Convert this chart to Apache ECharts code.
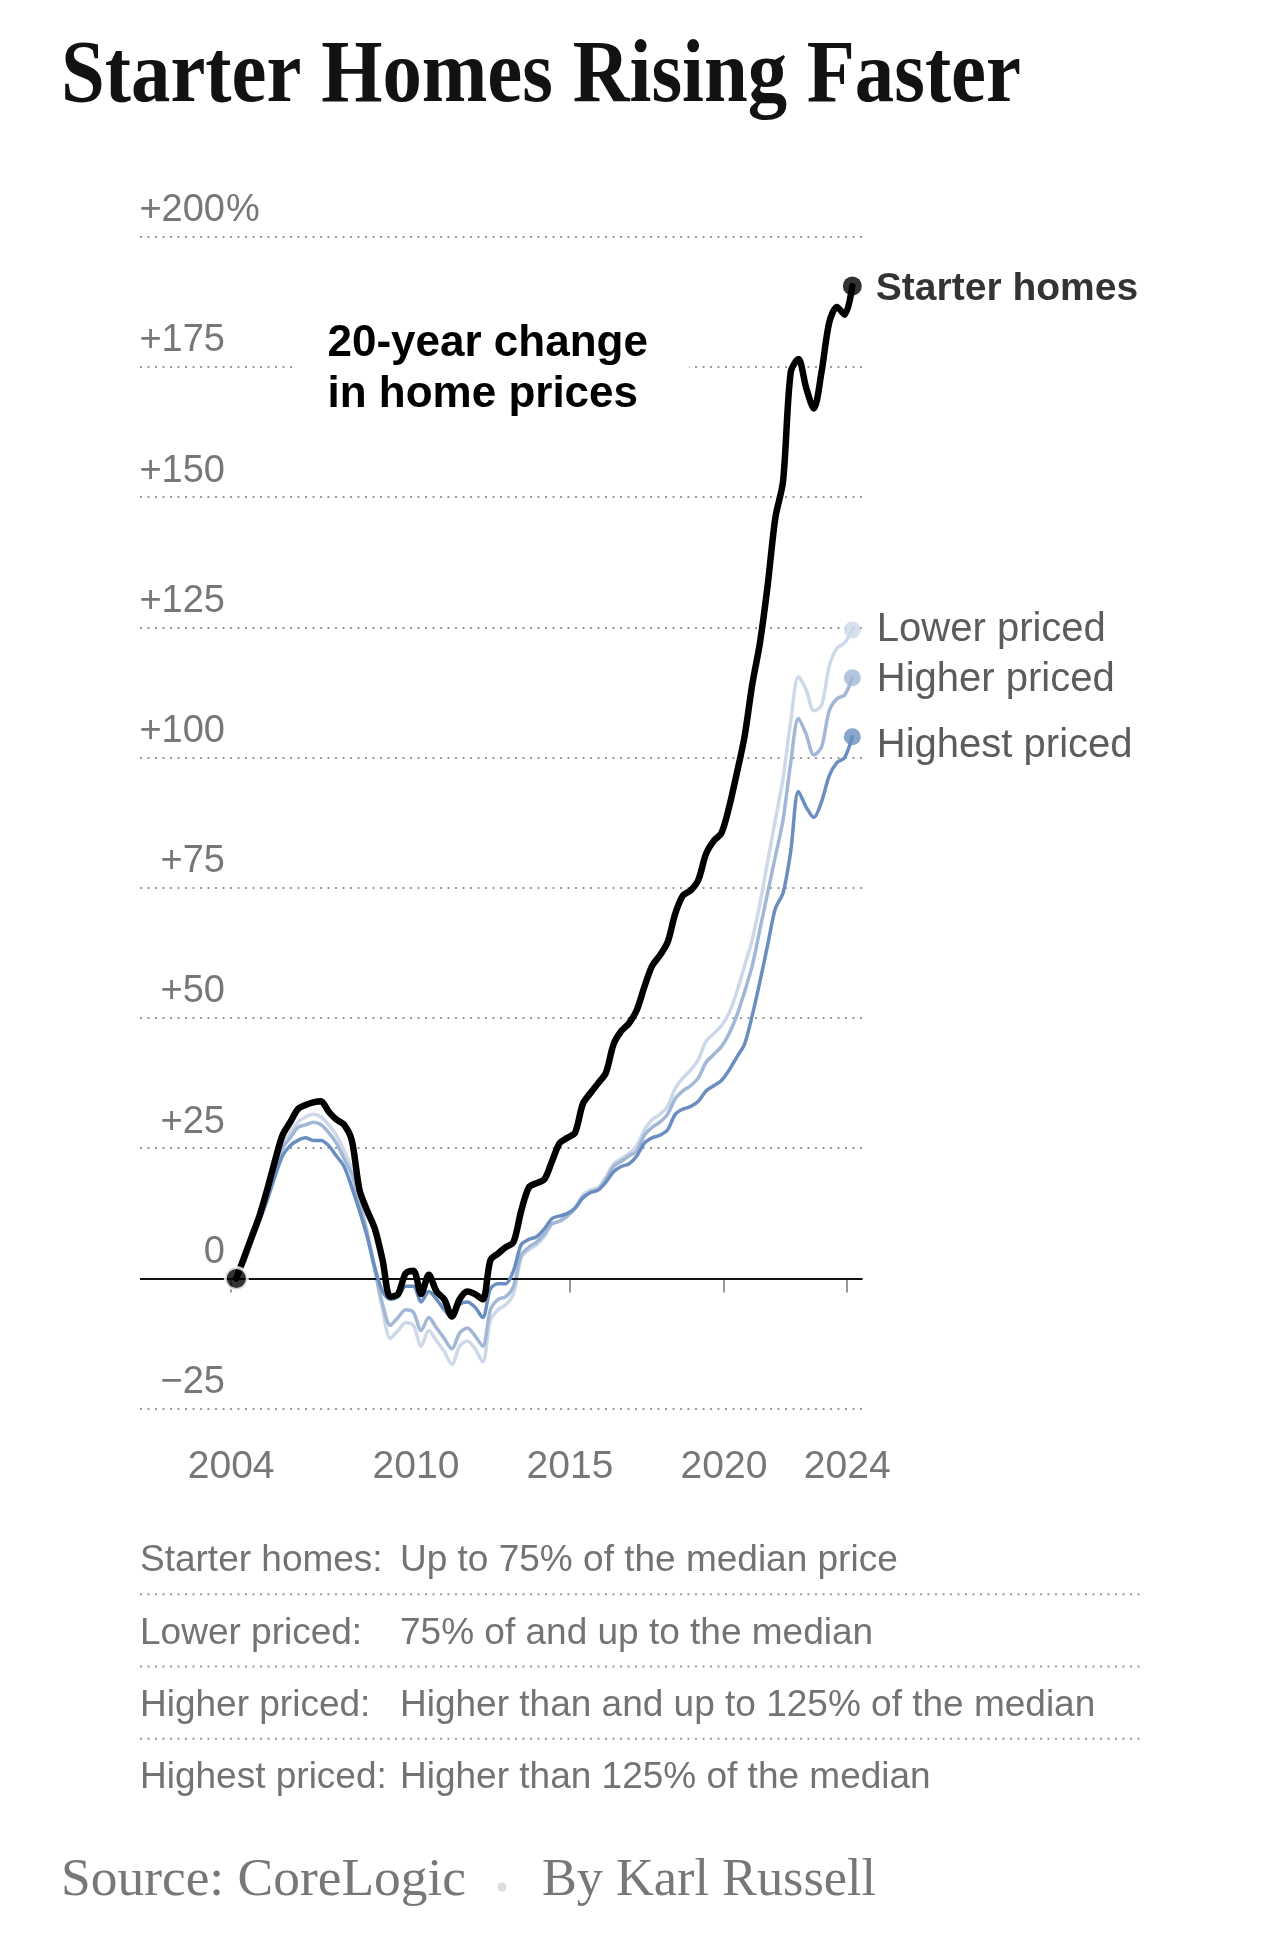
<!DOCTYPE html>
<html><head><meta charset="utf-8">
<script src="https://cdn.jsdelivr.net/npm/echarts@6/dist/echarts.min.js"></script>
<style>html,body{margin:0;padding:0;background:#fff}#c{width:1284px;height:1948px}</style>
</head><body><div id="c"></div>
<script>
// ---------- DATA (quarterly, % change since early 2004) ----------
const firstQuarter = 2004 + 2 / 12;   // first observation (early 2004)
const quarterStep = 0.25;
const starterHomes = [0,4,8,12,17,22.5,27.5,30,32.5,33.3,33.8,34,32,30.5,29.5,26.5,17,13,9.5,3.5,
  -3.5,-3,1,1.5,-3,0.7,-2.5,-4,-7.3,-4,-2.5,-3,-4,3.5,4.8,6,7,13,17.5,18.3,
  19,22.5,26,27,28,33.5,35.6,37.5,39.5,45,47.5,49,51.5,56,60,62,64.5,70,73.5,74.5,
  76.5,81.5,84,85.5,90.5,97,104,114,122,133,146,153,174,176.5,171,167,174,183.5,186.5,185,190.5];
const lowerPriced = [0,3.5,7.5,11.5,16,21,25.5,28,30,31,31.5,31,29.5,27.5,24.5,21,15,9,2,-6,
  -11.5,-10,-8.5,-9,-13,-10,-12,-14,-16.5,-13,-12,-13.5,-16,-8,-6,-5,-3,4,5.5,6.5,
  8,10.5,11,12,13.5,16,17,17.5,19.5,22,23,24,25.5,28.5,30.5,31.5,33,36.5,38.5,40,
  42,45.5,47,48.5,51,55,60,65,72,80,88,96,107,115.5,113,109,110,117.5,121,122,124.5];
const higherPriced = [0,3.5,7.5,11.5,16,20.5,25,27,29,29.5,30,29.5,28,26,23,20,14.5,8.5,1.5,-5,
  -9,-7.5,-6,-6.5,-10,-7.5,-9.5,-11.5,-13.5,-10.5,-9.5,-11,-13,-6,-4,-3.5,-1.5,4.5,6,7,
  8.5,10.5,11,12,13.5,15.5,16.5,17,19,21.5,22.5,23.5,24.5,27.5,29,30,31.5,34.5,36,37,
  38.5,41.5,43,44.5,47,50.5,55,60,67,74,81,88,99,107.5,104.5,100.5,102,109,111.3,112,115.3];
const highestPriced = [0,3,7,11,15,19.5,23.5,25.5,26.5,27,26.5,26.5,25.5,23.5,21.5,17.5,13,8,2,-2.5,
  -4,-3.5,-1.5,-1.5,-4.5,-2.5,-4,-6,-7.5,-5,-4.5,-5.5,-7.5,-2,-1,-1,1.5,6.5,7.5,8,
  9.5,11.5,12,12.5,13.5,15.5,16.5,17,18.5,20.5,21.5,22,23.5,26,27,27.5,28.5,31.5,32.5,33,
  34,36,37,38,40,42.5,45,50.5,57,64,71,74,82,93.5,90.5,88.5,91.5,96.5,99,100,104];
const seriesNames = ['Starter homes','Lower priced','Higher priced','Highest priced'];
const yTicks = [-25,0,25,50,75,100,125,150,175,200];
const yTickLabels = ['\u221225','0','+25','+50','+75','+100','+125','+150','+175','+200'];
const yUnit = '%';
const xTicks = [2004,2010,2015,2020,2024];
const xTickLabels = ['2004','2010','2015','2020','2024'];
const definitions = [
  ['Starter homes:','Up to 75% of the median price'],
  ['Lower priced:','75% of and up to the median'],
  ['Higher priced:','Higher than and up to 125% of the median'],
  ['Highest priced:','Higher than 125% of the median']
];
const titleText = 'Starter Homes Rising Faster';
const noteText = '20-year change\nin home prices';
const sourceText = 'Source: CoreLogic';
const bylineText = 'By Karl Russell';

// ---------- BUILD ----------
const quarters = starterHomes.map((_, i) => firstQuarter + i * quarterStep);
const pairs = arr => arr.map((v, i) => [quarters[i], v]);
const last = arr => [[quarters[arr.length - 1], arr[arr.length - 1]]];

function measure(text, font) {
  const ctx = document.createElement('canvas').getContext('2d');
  ctx.font = font; return ctx.measureText(text).width;
}
const titleFont = 'bold 89px "Liberation Serif"';
const titleScale = 960 / measure(titleText, titleFont);
const srcFont = '52px "Liberation Serif"';
const srcScale = 405 / measure(sourceText, srcFont);
const byScale = 334 / measure(bylineText, srcFont);

const C = { lower:'#cdd8e8', higher:'#a2b7d6', highest:'#6a8ebf', starter:'#000' };
const SANS = '"Liberation Sans", Arial, sans-serif';
const Y_FS = 38, X_FS = 39;
const GRID = { left: 140, right: 421.4, top: 236.6, bottom: 539.3 };
const LABEL_RIGHT = 225;

const chart = echarts.init(document.getElementById('c'), null, { renderer: 'canvas' });

const lineSeries = (name, data, color, width, z, extra) => Object.assign({
  type: 'line', name, data: pairs(data), symbol: 'none', smooth: 0.3, z,
  lineStyle: { color, width, cap: 'round', join: 'round' }, animation: false, silent: true
}, extra || {});

const endDot = (name, data, color, size, labelStyle, dy) => ({
  type: 'scatter', name: name + ' end', data: last(data), symbolSize: size, z: 20, silent: true,
  itemStyle: { color }, animation: false,
  label: Object.assign({ show: true, position: 'right', formatter: name, offset: [0, dy],
    fontFamily: SANS }, labelStyle)
});

const graphics = [
  { type: 'text', x: 61, y: 78, scaleX: titleScale, z: 50,
    style: { text: titleText, font: titleFont, fill: '#121212', verticalAlign: 'middle' } },
  { type: 'text', x: 294.5, y: 318, z: 50,
    style: { text: noteText, font: 'bold 44px ' + SANS, lineHeight: 51, fill: '#000',
      verticalAlign: 'top', backgroundColor: '#fff', padding: [0, 41, 0, 33] } },
  { type: 'text', x: 61, y: 1881.4, scaleX: srcScale, z: 50,
    style: { text: sourceText, font: srcFont, fill: '#777', verticalAlign: 'middle' } },
  { type: 'circle', shape: { cx: 502, cy: 1887, r: 4.5 }, style: { fill: '#ddd' }, z: 50 },
  { type: 'text', x: 542, y: 1881.4, scaleX: byScale, z: 50,
    style: { text: bylineText, font: srcFont, fill: '#777', verticalAlign: 'middle' } }
];
const rowBase = [1572.7, 1645, 1717.3, 1789.6];
definitions.forEach((d, i) => {
  graphics.push({ type: 'text', x: 140, y: rowBase[i] - 11.5, z: 50,
    style: { text: d[0], font: '37px ' + SANS, fill: '#737373', verticalAlign: 'middle' } });
  graphics.push({ type: 'text', x: 400, y: rowBase[i] - 11.5, z: 50,
    style: { text: d[1], font: '37px ' + SANS, fill: '#737373', verticalAlign: 'middle' } });
  if (i < definitions.length - 1) {
    const y = (rowBase[i] + rowBase[i + 1]) / 2 - 14.6;
    graphics.push({ type: 'line', shape: { x1: 140, y1: y, x2: 1140, y2: y }, z: 50,
      style: { stroke: '#9a9a9a', lineWidth: 2, lineDash: [2, 5.5] } });
  }
});

const option = {
  backgroundColor: '#fff',
  animation: false,
  grid: Object.assign({ containLabel: false, outerBoundsMode: 'none' }, GRID),
  xAxis: {
    type: 'value', min: 2001.04, max: 2024.5, offset: 17.3,
    axisLine: { show: false },
    splitLine: { show: false },
    axisTick: { show: true, length: 14, lineStyle: { color: '#999', width: 2 }, customValues: xTicks },
    axisLabel: { customValues: xTicks, margin: 22, fontSize: X_FS, color: '#777', fontFamily: SANS,
      formatter: v => xTickLabels[xTicks.indexOf(Math.round(v))] }
  },
  yAxis: {
    type: 'value', min: yTicks[0], max: yTicks[yTicks.length - 1], interval: 25,
    axisLine: { show: false }, axisTick: { show: false },
    splitLine: { show: true, lineStyle: { color: '#999', width: 2, type: [2, 5.5] } },
    axisLabel: {
      margin: GRID.left - LABEL_RIGHT, align: 'right', verticalAlign: 'bottom', fontSize: Y_FS, lineHeight: Y_FS,
      color: '#777', fontFamily: SANS, padding: [0, 0, 7, 0],
      formatter: v => yTickLabels[yTicks.indexOf(v)]
    }
  },
  graphic: { elements: graphics },
  series: [
    lineSeries(seriesNames[1], lowerPriced, C.lower, 3.5, 3, {
      markLine: { silent: true, symbol: ['none','none'], label: { show: false }, animation: false,
        lineStyle: { color: '#111', width: 2, type: 'solid' }, data: [{ yAxis: 0 }] } }),
    lineSeries(seriesNames[2], higherPriced, C.higher, 3.5, 4),
    lineSeries(seriesNames[3], highestPriced, C.highest, 3.5, 5),
    lineSeries(seriesNames[0], starterHomes, C.starter, 6.5, 6),
    endDot(seriesNames[1], lowerPriced, C.lower, 17, { fontSize: 40, color: '#333', distance: 16 }, 0),
    endDot(seriesNames[2], higherPriced, C.higher, 17, { fontSize: 40, color: '#333', distance: 16 }, 2),
    endDot(seriesNames[3], highestPriced, C.highest, 17, { fontSize: 40, color: '#333', distance: 16 }, 9),
    endDot(seriesNames[0], starterHomes, C.starter, 19, { fontSize: 39, fontWeight: 'bold', color: '#000', distance: 14 }, 3),
    { type: 'scatter', name: 'start', data: [[quarters[0], starterHomes[0]]], symbolSize: 22, z: 21,
      silent: true, itemStyle: { color: '#000', borderColor: '#fff', borderWidth: 3 } }
  ]
};
chart.setOption(option);

// unit sign that hangs to the right of the top tick label
const topY = chart.convertToPixel({ yAxisIndex: 0 }, yTicks[yTicks.length - 1]);
chart.setOption({ graphic: { elements: graphics.concat([{
  type: 'text', x: LABEL_RIGHT + 1, y: topY - 7, z: 50,
  style: { text: yUnit, font: Y_FS + 'px ' + SANS, fill: '#777', verticalAlign: 'bottom', lineHeight: Y_FS }
}]) } });
</script></body></html>
